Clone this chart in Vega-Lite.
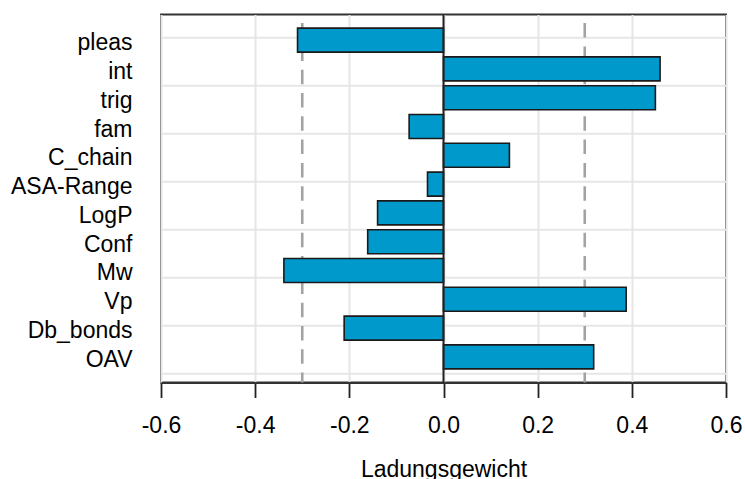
{
  "$schema": "https://vega.github.io/schema/vega-lite/v6.json",
  "width": 565,
  "height": 368,
  "autosize": "none",
  "padding": {"left": 161, "top": 14.5, "right": 19, "bottom": 96.5},
  "config": {
    "font": "Liberation Sans",
    "view": {"stroke": "#333333", "strokeWidth": 1.8}
  },
  "datasets": {
    "loadings": [
      {"name": "pleas", "value": -0.31},
      {"name": "int", "value": 0.46},
      {"name": "trig", "value": 0.45},
      {"name": "fam", "value": -0.073},
      {"name": "C_chain", "value": 0.14},
      {"name": "ASA-Range", "value": -0.034},
      {"name": "LogP", "value": -0.14},
      {"name": "Conf", "value": -0.161},
      {"name": "Mw", "value": -0.339},
      {"name": "Vp", "value": 0.388},
      {"name": "Db_bonds", "value": -0.211},
      {"name": "OAV", "value": 0.319}
    ],
    "grid": [{"g": 0}, {"g": 2}, {"g": 4}, {"g": 6}, {"g": 8}, {"g": 10}, {"g": 12}, {"g": 14}],
    "refs": [{"v": -0.3}, {"v": 0.3}],
    "zero": [{"v": 0}]
  },
  "layer": [
    {
      "data": {"name": "grid"},
      "mark": {"type": "rule", "color": "#e6e6e6", "strokeWidth": 2},
      "encoding": {
        "y": {"field": "g", "type": "quantitative", "scale": {"domain": [-0.368, 14.968], "nice": false, "zero": false}, "axis": null}
      }
    },
    {
      "data": {"name": "refs"},
      "mark": {"type": "rule", "color": "#a3a3a3", "strokeWidth": 2.6, "strokeDash": [14.5, 8.8], "strokeDashOffset": 14.7},
      "encoding": {
        "x": {"field": "v", "type": "quantitative", "scale": {"domain": [-0.6, 0.6], "nice": false}}
      }
    },
    {
      "data": {"name": "loadings"},
      "mark": {"type": "bar", "fill": "#0099CC", "stroke": "#1a1a1a", "strokeWidth": 1.6},
      "encoding": {
        "y": {
          "field": "name", "type": "nominal", "sort": null,
          "scale": {"paddingInner": 0.16667, "paddingOuter": 0.47333},
          "axis": {"title": null, "ticks": false, "tickSize": 0, "domain": false, "grid": false, "labelFontSize": 23, "labelColor": "#000000", "labelPadding": 29, "labelOffset": 3}
        },
        "x": {
          "field": "value", "type": "quantitative",
          "scale": {"domain": [-0.6, 0.6], "nice": false},
          "axis": {
            "values": [-0.6, -0.4, -0.2, 0, 0.2, 0.4, 0.6],
            "format": ".1f",
            "labelExpr": "replace(datum.label, '\u2212', '-')",
            "grid": true, "gridColor": "#e6e6e6", "gridWidth": 2,
            "domain": true, "domainColor": "#333333", "domainWidth": 1.8,
            "tickColor": "#222222", "tickWidth": 1.8, "tickSize": 15,
            "labelFontSize": 23, "labelColor": "#000000", "labelPadding": 17, "labelFlush": false,
            "title": "Ladungsgewicht", "titleFontSize": 23, "titleFontWeight": "normal", "titleColor": "#000000",
            "titleY": 93.5, "titleBaseline": "alphabetic"
          }
        }
      }
    },
    {
      "data": {"name": "zero"},
      "mark": {"type": "rule", "color": "#222222", "strokeWidth": 2},
      "encoding": {
        "x": {"field": "v", "type": "quantitative"}
      }
    }
  ],
  "resolve": {"scale": {"y": "independent"}}
}
